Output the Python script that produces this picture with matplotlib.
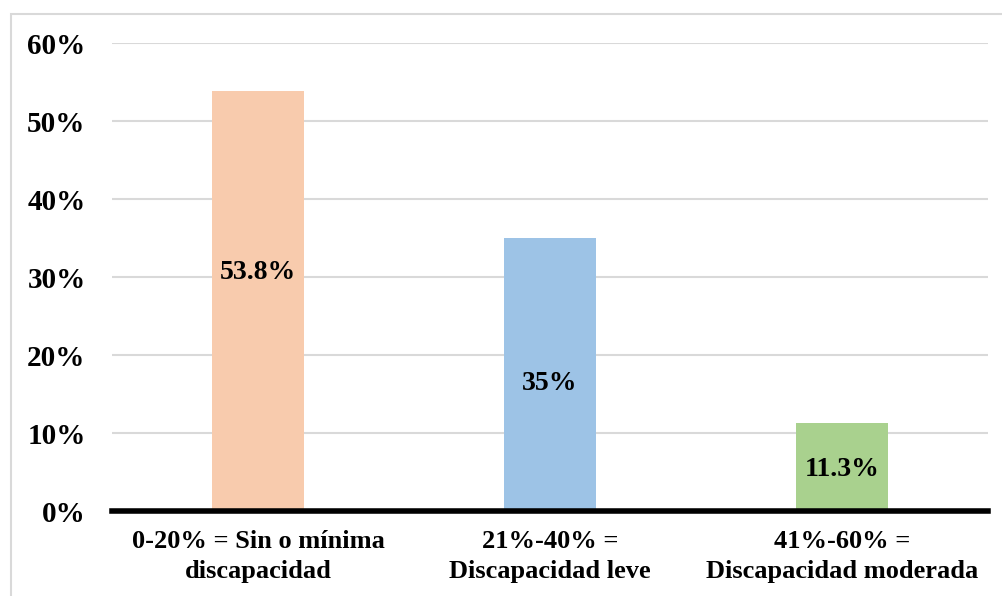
import matplotlib.pyplot as plt
from matplotlib.patches import Rectangle

categories = ['0-20% = Sin o mínima\ndiscapacidad',
              '21%-40% =\nDiscapacidad leve',
              '41%-60% =\nDiscapacidad moderada']
values = [53.8, 35.0, 11.3]
value_labels = ['53.8%', '35%', '11.3%']
colors = ['#F8CBAD', '#9DC3E6', '#A9D18E']
label_y = [30.6, 16.4, 5.3]

plt.rcParams['font.family'] = ['Liberation Serif', 'DejaVu Serif']
plt.rcParams['font.weight'] = 'bold'

fig = plt.figure(figsize=(10.03, 5.96), dpi=100)
ax = fig.add_axes([112 / 1003, 1 - 511 / 596, (988 - 112) / 1003, (511 - 43) / 596])

x = range(len(categories))
ax.bar(x, values, width=0.315, color=colors, zorder=2)
for i, (lab, y) in enumerate(zip(value_labels, label_y)):
    ax.text(i, y, lab, ha='center', va='center', fontsize=20, fontweight='bold', zorder=3)

ax.set_xlim(-0.5, len(categories) - 0.5)
ax.set_ylim(0, 60)
ax.set_yticks(range(0, 61, 10))
ax.set_yticklabels([f'{t}%' for t in range(0, 61, 10)], fontsize=21, fontweight='bold')
ax.set_xticks(list(x))
ax.set_xticklabels(categories, fontsize=19, fontweight='bold', linespacing=1.35)
ax.tick_params(axis='both', length=0)
ax.tick_params(axis='y', pad=19)
ax.tick_params(axis='x', pad=14)

ax.grid(axis='y', color='#D9D9D9', linewidth=1.5, zorder=0)
for side in ['top', 'right', 'left']:
    ax.spines[side].set_visible(False)
ax.spines['bottom'].set_linewidth(4)
ax.spines['bottom'].set_color('black')
ax.spines['bottom'].set_zorder(4)

# light frame around the chart area
fig.patches.append(Rectangle((11 / 1003, -0.1), 1.1, 1 - 14 / 596 + 0.1,
                             transform=fig.transFigure, fill=False,
                             edgecolor='#D9D9D9', linewidth=1.5))

fig.savefig('out.png', dpi=100)
